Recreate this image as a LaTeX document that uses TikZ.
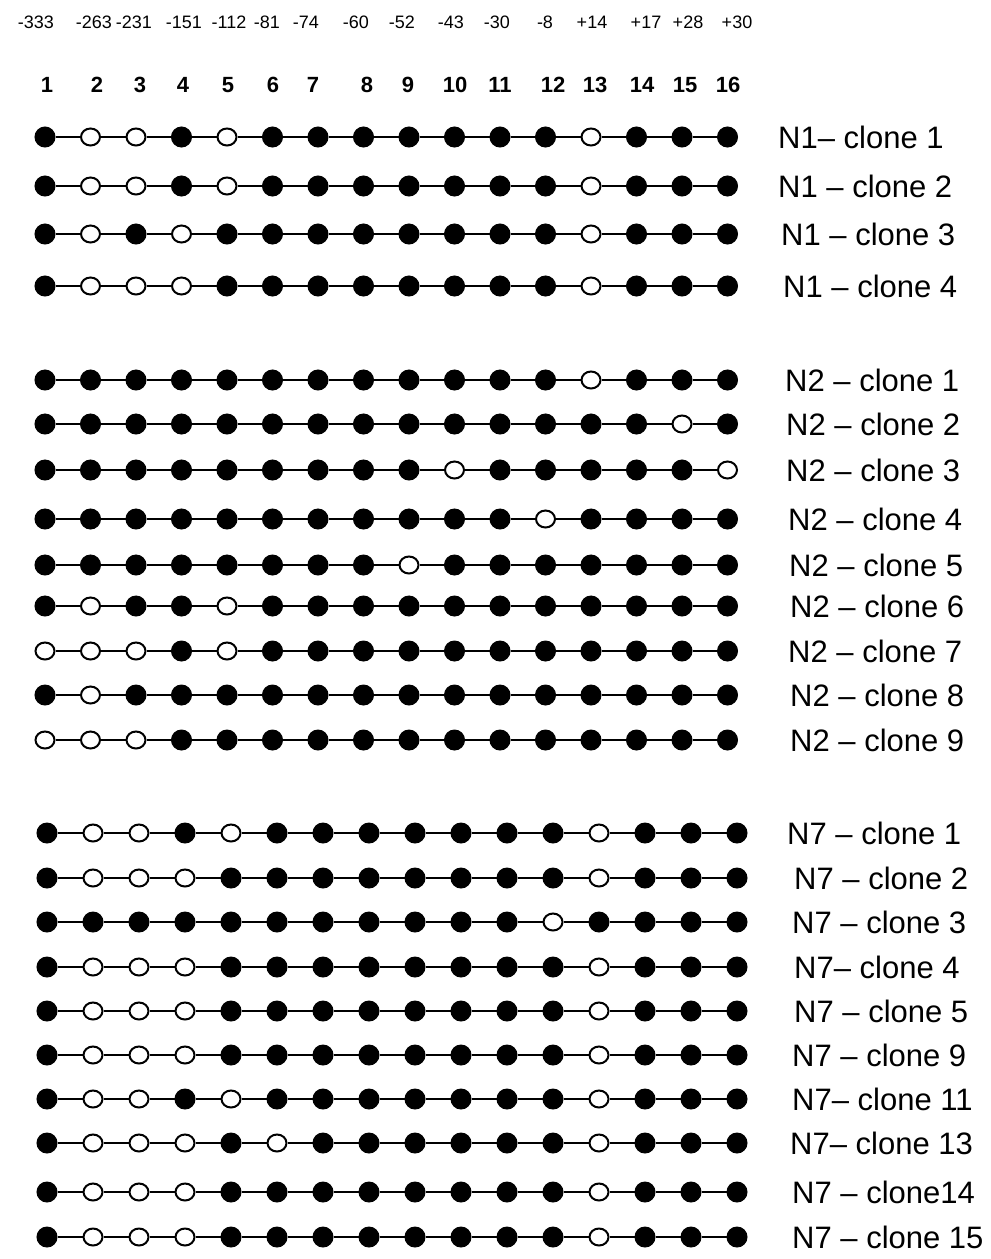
\documentclass[tikz,border=0pt]{standalone}
\usepackage{fontspec}
\setmainfont{Liberation Sans}
\usetikzlibrary{shapes.geometric}
\tikzset{
  dotB/.style={circle, draw=black, fill=black, line width=1pt, minimum size=20pt, inner sep=0pt},
  dotW/.style={ellipse, draw=black, fill=white, line width=2pt, minimum width=19pt, minimum height=17pt, inner sep=0pt},
  link/.style={line width=2pt},
  poslabel/.style={font=\fontsize{18}{18}\selectfont, inner sep=0pt},
  collabel/.style={font=\bfseries\fontsize{22}{22}\selectfont, inner sep=0pt},
  clonelabel/.style={font=\fontsize{31}{31}\selectfont, anchor=west, inner sep=0pt}
}

\begin{document}
\begin{tikzpicture}[x=1pt, y=-1pt]
  \useasboundingbox (0,0) rectangle (991,1259);

  % positions and column numbers
  \foreach \t/\x [count=\i] in {-333/36, -263/94, -231/134, -151/184, -112/229, -81/267, -74/306, -60/356,
                                -52/402, -43/451, -30/497, -8/545, +14/592, +17/646, +28/688, +30/737}
    \node[poslabel] (pos\i) at (\x,22) {\t};
  \foreach \x [count=\i] in {47,97,140,183,228,273,313,367,408,455,500,553,595,642,685,728}
    \node[collabel] (col\i) at (\x,85) {\i};

  % N1 and N2 clones
  \foreach \r/\y/\pat/\lab/\lx in {
      na/137/{B,W,W,B,W,B,B,B,B,B,B,B,W,B,B,B}/{N1-- clone 1}/778,
      nb/186/{B,W,W,B,W,B,B,B,B,B,B,B,W,B,B,B}/{N1 -- clone 2}/778,
      nc/234/{B,W,B,W,B,B,B,B,B,B,B,B,W,B,B,B}/{N1 -- clone 3}/781,
      nd/286/{B,W,W,W,B,B,B,B,B,B,B,B,W,B,B,B}/{N1 -- clone 4}/783,
      ne/380/{B,B,B,B,B,B,B,B,B,B,B,B,W,B,B,B}/{N2 -- clone 1}/785,
      nf/424/{B,B,B,B,B,B,B,B,B,B,B,B,B,B,W,B}/{N2 -- clone 2}/786,
      ng/470/{B,B,B,B,B,B,B,B,B,W,B,B,B,B,B,W}/{N2 -- clone 3}/786,
      nh/519/{B,B,B,B,B,B,B,B,B,B,B,W,B,B,B,B}/{N2 -- clone 4}/788,
      ni/565/{B,B,B,B,B,B,B,B,W,B,B,B,B,B,B,B}/{N2 -- clone 5}/789,
      nj/606/{B,W,B,B,W,B,B,B,B,B,B,B,B,B,B,B}/{N2 -- clone 6}/790,
      nk/651/{W,W,W,B,W,B,B,B,B,B,B,B,B,B,B,B}/{N2 -- clone 7}/788,
      nl/695/{B,W,B,B,B,B,B,B,B,B,B,B,B,B,B,B}/{N2 -- clone 8}/790,
      nm/740/{W,W,W,B,B,B,B,B,B,B,B,B,B,B,B,B}/{N2 -- clone 9}/790}{
    \foreach \s [count=\c] in \pat
      \node[dot\s] (\r-\c) at ({45+45.5*(\c-1)},\y) {};
    \foreach \c [evaluate=\c as \n using int(\c+1)] in {1,...,15}
      \draw[link] (\r-\c) -- (\r-\n);
    \node[clonelabel] (\r-lab) at (\lx,\y) {\lab};
  }

  % N7 clones
  \foreach \r/\y/\pat/\lab/\lx in {
      sa/833/{B,W,W,B,W,B,B,B,B,B,B,B,W,B,B,B}/{N7 -- clone 1}/787,
      sb/878/{B,W,W,W,B,B,B,B,B,B,B,B,W,B,B,B}/{N7 -- clone 2}/794,
      sc/922/{B,B,B,B,B,B,B,B,B,B,B,W,B,B,B,B}/{N7 -- clone 3}/792,
      sd/967/{B,W,W,W,B,B,B,B,B,B,B,B,W,B,B,B}/{N7-- clone 4}/794,
      se/1011/{B,W,W,W,B,B,B,B,B,B,B,B,W,B,B,B}/{N7 -- clone 5}/794,
      sf/1055/{B,W,W,W,B,B,B,B,B,B,B,B,W,B,B,B}/{N7 -- clone 9}/792,
      sg/1099/{B,W,W,B,W,B,B,B,B,B,B,B,W,B,B,B}/{N7-- clone 11}/792,
      sh/1143/{B,W,W,W,B,W,B,B,B,B,B,B,W,B,B,B}/{N7-- clone 13}/790,
      si/1192/{B,W,W,W,B,B,B,B,B,B,B,B,W,B,B,B}/{N7 -- clone14}/792,
      sj/1237/{B,W,W,W,B,B,B,B,B,B,B,B,W,B,B,B}/{N7 -- clone 15}/792}{
    \foreach \s [count=\c] in \pat
      \node[dot\s] (\r-\c) at ({47+46*(\c-1)},\y) {};
    \foreach \c [evaluate=\c as \n using int(\c+1)] in {1,...,15}
      \draw[link] (\r-\c) -- (\r-\n);
    \node[clonelabel] (\r-lab) at (\lx,\y) {\lab};
  }
\end{tikzpicture}
\end{document}
